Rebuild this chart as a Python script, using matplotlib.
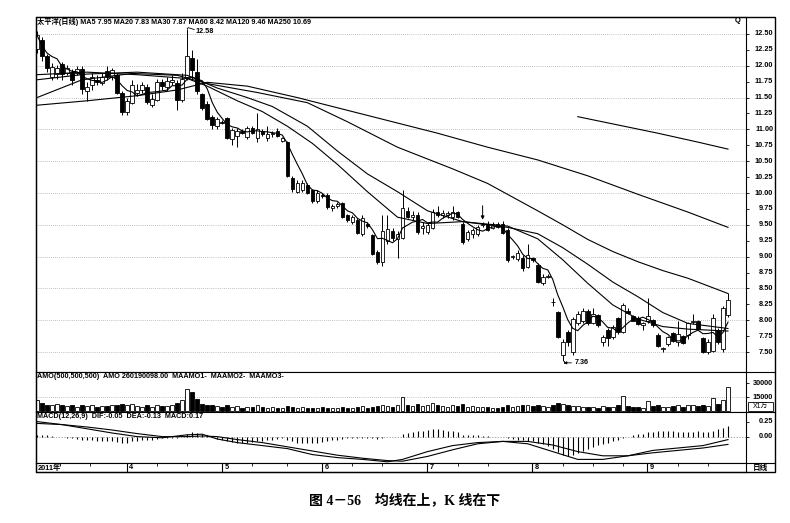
import numpy as np
import pandas as pd
import matplotlib
matplotlib.use("Agg")
import matplotlib.pyplot as plt
from matplotlib.transforms import blended_transform_factory
from matplotlib.patches import Rectangle
from matplotlib.lines import Line2D

plt.rcParams['font.family'] = ['Liberation Sans', 'Noto Sans CJK SC']

# daily candles, 2011-03 .. 2011-09
opens = [12.27, 12.40, 12.15, 11.82, 11.87, 12.03, 11.88, 11.90, 11.88, 11.95,
         11.60, 11.70, 11.78, 11.73, 11.92, 11.82, 11.85, 11.58, 11.28, 11.42,
         11.58, 11.62, 11.67, 11.38, 11.47, 11.75, 11.67, 11.74, 11.73, 11.47,
         11.83, 12.12, 11.90, 11.55, 11.40, 11.20, 11.05, 11.12, 11.18, 10.85,
         10.90, 10.97, 10.88, 11.02, 10.86, 10.98, 10.87, 10.92, 10.98, 10.82,
         10.80, 10.24, 10.02, 10.05, 10.12, 10.04, 9.88, 9.97, 9.97, 9.76,
         9.80, 9.84, 9.65, 9.55, 9.58, 9.35, 9.52, 9.34, 9.08, 8.92,
         9.25, 9.40, 9.28, 9.30, 9.72, 9.63, 9.66, 9.45, 9.38, 9.45,
         9.70, 9.66, 9.65, 9.62, 9.70, 9.52, 9.27, 9.35, 9.35, 9.50,
         9.52, 9.45, 9.52, 9.52, 9.42, 8.99, 8.96, 8.98, 8.84, 8.98,
         8.87, 8.58, 8.68, 8.29, 8.13, 7.45, 7.81, 7.50, 7.96, 7.98,
         8.14, 7.96, 8.08, 7.65, 7.85, 7.73, 8.03, 7.82, 8.15, 8.06,
         8.04, 7.93, 7.98, 8.00, 7.77, 7.54, 7.62, 7.80, 7.65, 7.75,
         7.77, 7.97, 7.98, 7.72, 7.50, 7.52, 7.85, 7.55, 8.08]
highs = [12.55, 12.45, 12.18, 12.05, 12.02, 12.06, 12.02, 11.95, 12.00, 12.00,
         11.75, 11.88, 11.85, 11.88, 12.00, 11.97, 11.88, 11.60, 11.50, 11.78,
         11.72, 11.75, 11.72, 11.55, 11.80, 11.80, 11.82, 11.85, 11.78, 11.88,
         12.58, 12.25, 12.10, 11.57, 11.45, 11.23, 11.20, 11.15, 11.20, 11.02,
         11.02, 11.00, 11.05, 11.05, 11.25, 11.00, 11.05, 10.98, 11.02, 10.88,
         10.82, 10.27, 10.20, 10.20, 10.15, 10.06, 10.04, 10.00, 10.00, 9.82,
         9.86, 9.86, 9.67, 9.66, 9.60, 9.65, 9.55, 9.36, 9.10, 9.65,
         9.65, 9.45, 9.40, 10.05, 9.78, 9.72, 9.70, 9.55, 9.55, 9.75,
         9.80, 9.73, 9.72, 9.80, 9.72, 9.55, 9.42, 9.45, 9.50, 9.55,
         9.56, 9.55, 9.55, 9.56, 9.45, 9.03, 9.10, 9.02, 9.20, 9.00,
         8.90, 8.72, 8.72, 8.35, 8.15, 7.70, 7.85, 8.05, 8.15, 8.20,
         8.17, 8.20, 8.10, 7.76, 7.88, 7.93, 8.05, 8.27, 8.20, 8.08,
         8.06, 7.97, 8.35, 8.02, 7.80, 7.58, 7.75, 7.82, 7.98, 7.77,
         7.97, 8.10, 8.00, 7.74, 7.70, 8.10, 7.88, 8.22, 8.43]
lows = [12.20, 12.08, 11.90, 11.78, 11.80, 11.78, 11.85, 11.70, 11.85, 11.55,
        11.45, 11.62, 11.70, 11.70, 11.78, 11.78, 11.55, 11.22, 11.22, 11.40,
        11.52, 11.58, 11.40, 11.35, 11.44, 11.62, 11.60, 11.70, 11.30, 11.43,
        11.78, 11.80, 11.55, 11.30, 11.15, 11.00, 11.00, 11.08, 10.85, 10.75,
        10.73, 10.92, 10.85, 10.92, 10.80, 10.90, 10.82, 10.88, 10.88, 10.80,
        10.25, 10.02, 10.00, 10.02, 9.98, 9.85, 9.85, 9.92, 9.75, 9.72,
        9.76, 9.60, 9.55, 9.52, 9.35, 9.32, 9.45, 9.02, 8.88, 8.85,
        9.20, 9.25, 8.98, 9.28, 9.60, 9.58, 9.35, 9.35, 9.35, 9.43,
        9.62, 9.60, 9.60, 9.58, 9.60, 9.20, 9.24, 9.30, 9.32, 9.47,
        9.40, 9.43, 9.45, 9.35, 8.92, 8.96, 8.93, 8.78, 8.82, 8.92,
        8.58, 8.55, 8.66, 8.22, 7.72, 7.36, 7.60, 7.45, 7.92, 7.95,
        7.92, 7.94, 7.90, 7.60, 7.60, 7.70, 7.78, 7.80, 8.10, 7.98,
        7.92, 7.85, 7.95, 7.90, 7.58, 7.50, 7.60, 7.65, 7.60, 7.62,
        7.70, 7.94, 7.85, 7.48, 7.47, 7.50, 7.62, 7.50, 8.05]
closes = [12.48, 12.15, 11.97, 11.98, 11.97, 11.87, 11.96, 11.78, 11.95, 11.63,
          11.66, 11.83, 11.75, 11.82, 11.82, 11.93, 11.58, 11.28, 11.45, 11.70,
          11.62, 11.70, 11.43, 11.48, 11.74, 11.68, 11.76, 11.78, 11.47, 11.80,
          12.15, 11.93, 11.60, 11.34, 11.17, 11.07, 11.17, 11.10, 10.87, 10.99,
          10.98, 10.94, 11.02, 10.95, 11.00, 10.92, 10.92, 10.95, 10.90, 10.86,
          10.27, 10.06, 10.16, 10.15, 10.00, 9.87, 10.00, 9.95, 9.78, 9.80,
          9.82, 9.62, 9.58, 9.62, 9.37, 9.60, 9.48, 9.04, 8.92, 9.40,
          9.43, 9.30, 9.35, 9.77, 9.63, 9.66, 9.38, 9.48, 9.50, 9.70,
          9.65, 9.68, 9.69, 9.70, 9.62, 9.23, 9.38, 9.42, 9.47, 9.50,
          9.42, 9.52, 9.47, 9.37, 8.95, 9.00, 9.05, 8.82, 9.03, 8.95,
          8.60, 8.68, 8.70, 8.28, 7.74, 7.66, 7.66, 8.02, 8.10, 8.15,
          7.95, 8.10, 7.92, 7.74, 7.72, 7.90, 7.81, 8.24, 8.12, 7.99,
          7.94, 7.95, 8.06, 7.92, 7.60, 7.57, 7.74, 7.68, 7.78, 7.64,
          7.95, 7.99, 7.86, 7.50, 7.66, 8.03, 7.65, 8.19, 8.32]

# turnover, in 10k units
amount = [12000, 9000, 7000, 6000, 8000, 6000,
          5000, 6000, 4500, 7000, 5000, 6500, 4000, 5500, 5000, 6000, 7000, 8000,
          6000, 7500, 5000, 4500, 6000, 4000, 7000, 5000, 5500, 6000, 9000, 12000,
          24000, 20000, 13000, 8000, 7000, 6500,
          5000, 4500, 6000, 4000, 5000, 3500, 4000, 4500, 6500, 4000, 3500, 4000,
          3000, 3500, 5000, 4500, 3500, 4000, 3000, 3500, 3000, 4000,
          3500, 3000, 3000, 4000, 3500, 3500, 4500, 5000, 3000, 4500, 5000, 7000,
          5500, 4000, 6000, 15000, 7000, 5000, 8000, 5500, 7000,
          9000, 6000, 5000, 4500, 7000, 5000, 7500, 4500, 5000, 4000, 4500, 4000,
          3500, 3500, 4500, 7000, 4000, 5000, 6000, 7000, 5500,
          6500, 5000, 4000, 6000, 9000, 7500, 6500, 5500, 5000, 4500, 4000, 4500,
          3500, 5000, 4000, 4000, 6000, 16000, 5500, 4500, 4000, 3500, 11000,
          5000, 6000, 4000, 4500, 5000, 6000, 4500, 7000, 6500, 5000, 6000, 5500,
          14000, 8000, 12000, 26000]

# moving averages: (candle index, price)
ma20_idx = [0, 10, 20, 30, 34, 40, 45, 50, 55, 60, 66, 72, 78, 85, 94, 100, 105, 110, 115, 120, 125, 130, 138]
ma20_val = [11.86, 11.90, 11.86, 11.80, 11.68, 11.45, 11.28, 11.05, 10.78, 10.45, 10.02, 9.62, 9.52, 9.55,
            9.48, 9.28, 8.95, 8.58, 8.24, 8.02, 7.90, 7.86, 7.83]
ma30_idx = [0, 10, 20, 30, 36, 42, 47, 54, 60, 66, 72, 78, 85, 94, 100, 105, 110, 115, 120, 125, 130, 138]
ma30_val = [11.78, 11.87, 11.90, 11.85, 11.65, 11.50, 11.36, 11.05, 10.66, 10.30, 10.02, 9.72, 9.55, 9.46,
            9.36, 9.14, 8.88, 8.60, 8.37, 8.12, 7.95, 7.87]
ma60_idx = [0, 9, 19, 28, 34, 44, 54, 62, 72, 83, 90, 100, 105, 110, 115, 120, 125, 130, 138]
ma60_val = [11.50, 11.78, 11.88, 11.85, 11.72, 11.58, 11.42, 11.12, 10.72, 10.38, 10.15, 9.72, 9.50, 9.27,
            9.08, 8.92, 8.78, 8.66, 8.42]
ma120_idx = [0, 10, 20, 28, 34, 42, 52, 62, 72, 80, 90, 100, 110, 120, 130, 138]
ma120_val = [11.38, 11.45, 11.53, 11.62, 11.74, 11.68, 11.50, 11.30, 11.10, 10.94, 10.72, 10.52, 10.27,
             9.98, 9.70, 9.46]
ma250_idx = [108, 116, 124, 132, 138]
ma250_val = [11.20, 11.07, 10.94, 10.80, 10.69]

# MACD
dif_idx = [0, 5, 10, 15, 20, 25, 30, 33, 36, 40, 45, 50, 55, 60, 65, 70, 73, 78, 83, 88,
           93, 98, 103, 108, 113, 118, 123, 128, 133, 138]
dif_val = [0.25, 0.20, 0.13, 0.06, 0.00, -0.02, 0.03, 0.04, -0.04, -0.10, -0.15, -0.20, -0.30, -0.35,
           -0.38, -0.42, -0.38, -0.25, -0.15, -0.10, -0.08, -0.12, -0.25, -0.38, -0.38, -0.32, -0.23,
           -0.19, -0.15, -0.05]
dea_val = [0.22, 0.20, 0.16, 0.11, 0.05, 0.00, 0.00, 0.01, 0.00, -0.05, -0.10, -0.17, -0.24, -0.31,
           -0.36, -0.40, -0.41, -0.33, -0.22, -0.12, -0.08, -0.08, -0.14, -0.25, -0.32, -0.32, -0.27,
           -0.23, -0.19, -0.13]
macd_hist = [0.03, 0.03, 0.02, 0.01, 0.00, -0.01,
             -0.02, -0.03, -0.04, -0.05, -0.06, -0.06, -0.07, -0.07, -0.08, -0.08, -0.09, -0.10,
             -0.10, -0.08, -0.07, -0.06, -0.06, -0.05, -0.04, -0.03, -0.03, -0.02, -0.02, 0.00,
             0.05, 0.07, 0.06, 0.04, 0.02, -0.01,
             -0.04, -0.06, -0.08, -0.09, -0.10, -0.10, -0.10, -0.09, -0.08, -0.07, -0.06, -0.05, -0.04, -0.03,
             -0.05, -0.08, -0.10, -0.11, -0.11, -0.10, -0.10, -0.09,
             -0.07, -0.06, -0.05, -0.04, -0.03, -0.03, -0.03, -0.02, -0.02, -0.03, -0.04, -0.02, -0.01, -0.01, 0.00,
             0.04, 0.06, 0.08, 0.09, 0.10, 0.11, 0.12, 0.12, 0.11, 0.10, 0.09, 0.07,
             0.03, 0.02, 0.02, 0.02, 0.01, 0.01, 0.00, 0.00, -0.01, -0.03, -0.04, -0.05, -0.06, -0.07, -0.08,
             -0.10, -0.13, -0.16, -0.20, -0.26, -0.30, -0.32, -0.30, -0.27, -0.24, -0.20,
             -0.17, -0.14, -0.12, -0.10, -0.07, -0.05, -0.02, 0.00, 0.02, 0.04, 0.05, 0.07,
             0.08, 0.09, 0.10, 0.10, 0.09, 0.08, 0.08, 0.07, 0.08, 0.09, 0.08, 0.07, 0.10, 0.12, 0.14, 0.17]

month_start = [18, 37, 57, 78, 99, 122]
month_lbl = ['4', '5', '6', '7', '8', '9']
week_ticks = [4.6, 10.6, 24, 30, 43, 50, 63, 69, 84, 90, 105, 111, 117, 128, 134]

price_ticks = np.arange(7.5, 12.51, 0.25)
price_grid = np.arange(7.5, 12.51, 0.5)

title_txt = '太平洋(日线) MA5 7.95 MA20 7.83 MA30 7.87 MA60 8.42 MA120 9.46 MA250 10.69'
vol_txt = 'AMO(500,500,500)  AMO 260190098.00  MAAMO1-  MAAMO2-  MAAMO3-'
macd_txt = 'MACD(12,26,9)  DIF:-0.05  DEA:-0.13  MACD:0.17'
caption = '图 4－56　均线在上，K 线在下'

# ---------------------------------------------------------------
W, H = 790, 523
fig = plt.figure(figsize=(W / 100, H / 100), dpi=100)


def box(x0, y0, x1, y1):
    return [x0 / W, 1 - y1 / H, (x1 - x0) / W, (y1 - y0) / H]


L, R, RR = 36, 746, 775
ax = fig.add_axes(box(L, 17, R, 372))
axv = fig.add_axes(box(L, 372, R, 412))
axm = fig.add_axes(box(L, 412, R, 463))
axd = fig.add_axes(box(L, 463, R, 472))

idx = np.arange(len(closes))
o = np.array(opens)
c = np.array(closes)
up = c >= o
face = np.where(up, 'white', 'black')
lblkw = dict(fontsize=5.3, fontweight='bold', ha='right', va='center')

for a in (ax, axv, axm, axd):
    a.set_xlim(-0.2, 141.6)
    a.set_xticks([])
    for s in a.spines.values():
        s.set_linewidth(0.8)

# price panel
ax.set_ylim(7.186, 12.767)
ax.hlines(price_grid, -0.2, 141.6, colors='#888888', linewidth=0.5, linestyles=(0, (1, 2)), zorder=1)
ax.vlines(idx, lows, highs, color='black', linewidth=0.7, zorder=2)
ax.bar(idx, np.maximum(np.abs(c - o), 0.012), bottom=np.minimum(o, c), width=0.72,
       color=face, edgecolor='black', linewidth=0.6, zorder=3)
ma5 = pd.Series(closes).rolling(5, min_periods=1).mean()
ax.plot(idx, ma5, color='black', linewidth=0.8, zorder=4)
for xi, yi in [(ma20_idx, ma20_val), (ma30_idx, ma30_val), (ma60_idx, ma60_val),
               (ma120_idx, ma120_val), (ma250_idx, ma250_val)]:
    ax.plot(xi, yi, color='black', linewidth=0.8, zorder=4)

ax.plot([30, 30.2, 31.4], [12.58, 12.60, 12.57], color='black', linewidth=0.6)
ax.text(31.6, 12.535, '12.58', fontsize=5.2, fontweight='bold', va='center')
ax.plot([105.2, 105.2], [7.36, 7.33], color='black', linewidth=0.6)
ax.annotate('7.36', xy=(105.2, 7.33), xytext=(107.3, 7.33), fontsize=5.2, fontweight='bold', va='center',
            arrowprops=dict(arrowstyle='-|>', lw=0.6, color='black', mutation_scale=4, shrinkA=0, shrinkB=0))
ax.annotate('', xy=(89, 9.58), xytext=(89, 9.80),
            arrowprops=dict(arrowstyle='-|>', lw=0.7, color='black', mutation_scale=5, shrinkA=0, shrinkB=0))
ax.text(0.002, 0.997, title_txt, transform=ax.transAxes, fontsize=5.2, fontweight='bold', va='top')

ax.yaxis.tick_right()
ax.set_yticks(price_ticks)
ax.tick_params(axis='y', direction='out', length=2, width=0.6, labelright=False)
tp = blended_transform_factory(fig.transFigure, ax.transData)
for v in price_ticks:
    ax.text(773 / W, v, '%.2f' % v, transform=tp, **lblkw)

# amount panel
axv.set_ylim(-1000, 41800)
axv.hlines([15000], -0.2, 141.6, colors='#888888', linewidth=0.5, linestyles=(0, (1, 2)), zorder=1)
axv.bar(idx, amount, width=0.72, color=face, edgecolor='black', linewidth=0.6, zorder=3)
axv.text(0.002, 0.97, vol_txt, transform=axv.transAxes, fontsize=5.2, fontweight='bold', va='top')
axv.yaxis.tick_right()
axv.set_yticks([15000, 30000])
axv.tick_params(axis='y', direction='out', length=2, width=0.6, labelright=False)
tv = blended_transform_factory(fig.transFigure, axv.transData)
for v in (15000, 30000):
    axv.text(773 / W, v, str(v), transform=tv, **lblkw)

# macd panel
axm.set_ylim(-0.44, 0.41)
axm.axhline(0, color='#888888', linewidth=0.5, linestyle=(0, (2, 2)), zorder=1)
axm.vlines(idx, 0, macd_hist, color='black', linewidth=0.8, zorder=2)
axm.plot(dif_idx, dif_val, color='black', linewidth=0.8, zorder=3)
axm.plot(dif_idx, dea_val, color='black', linewidth=0.8, zorder=3)
axm.text(0.002, 0.98, macd_txt, transform=axm.transAxes, fontsize=5.2, fontweight='bold', va='top')
axm.yaxis.tick_right()
axm.set_yticks([0, 0.25])
axm.tick_params(axis='y', direction='out', length=2, width=0.6, labelright=False)
tm = blended_transform_factory(fig.transFigure, axm.transData)
for v in (0, 0.25):
    axm.text(773 / W, v, '%.2f' % v, transform=tm, **lblkw)

# date strip
axd.set_ylim(0, 1)
axd.set_yticks([])
axd.vlines([m - 0.1 for m in month_start], 0, 1, color='black', linewidth=0.8)
axd.vlines(week_ticks, 0.65, 1, color='black', linewidth=0.6)
axd.text(0.2, 0.45, '2011年', fontsize=5.3, fontweight='bold', va='center')
for m, t in zip(month_start, month_lbl):
    axd.text(m + 0.4, 0.45, t, fontsize=5.3, fontweight='bold', va='center')

# outer frame and right column
fig.add_artist(Rectangle((L / W, 1 - 472 / H), (RR - L) / W, (472 - 17) / H, fill=False,
                         linewidth=1.0, edgecolor='black', transform=fig.transFigure))
for yy in (372, 412, 463):
    fig.add_artist(Line2D([R / W, RR / W], [1 - yy / H] * 2, color='black', linewidth=0.8,
                          transform=fig.transFigure))
fig.add_artist(Rectangle((748 / W, 1 - 411 / H), 25 / W, 9 / H, fill=False, linewidth=0.6,
                         edgecolor='black', transform=fig.transFigure))
fig.text(760.5 / W, 1 - 406.5 / H, 'X1万', fontsize=5, ha='center', va='center')
fig.text(760.5 / W, 1 - 468 / H, '日线', fontsize=5.5, fontweight='bold', ha='center', va='center')
fig.text(738 / W, 1 - 21 / H, 'Q', fontsize=5.5, fontweight='bold', ha='center', va='center')

fig.text(405 / W, 1 - 500 / H, caption, fontsize=10, fontweight='bold', ha='center', va='center',
         family=['Liberation Serif', 'Noto Sans CJK SC'])

fig.savefig('out.png', dpi=100)
